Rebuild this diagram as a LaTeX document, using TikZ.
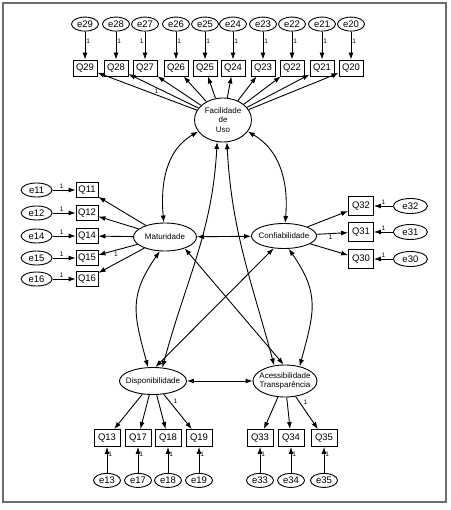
\documentclass[tikz,border=0pt]{standalone}
\usepackage{fontspec}
\setmainfont{Liberation Sans}
\usetikzlibrary{shapes.geometric,positioning,arrows.meta}

\tikzset{
  obs/.style={draw,rectangle,minimum width=24pt,minimum height=16pt,inner sep=0pt,font=\fontsize{9.5}{10}\selectfont},
  err/.style={draw,ellipse,minimum width=27pt,minimum height=14pt,inner sep=0pt,font=\fontsize{9.5}{10}\selectfont},
  lat/.style={draw,ellipse,inner sep=-6pt,align=center,font=\fontsize{8}{9.5}\selectfont},
  one/.style={font=\fontsize{6.5}{7}\selectfont,inner sep=1pt}
}

\begin{document}
\begin{tikzpicture}[x=1pt,y=-1pt,->,>={Latex[length=7pt,width=5pt]},line width=0.9pt]
		\useasboundingbox (0,0) rectangle (450,510);
		\draw[-,gray!85!black,line width=1.6pt] (3,3) rectangle (446,502);

		% latent variables
		\node[lat,minimum width=57pt,minimum height=44pt] (fac) at (223,120) {Facilidade\\de\\Uso};
		\node[lat,minimum width=63pt,minimum height=28pt] (mat) at (165,237) {Maturidade};
		\node[lat,minimum width=65pt,minimum height=25pt] (conf) at (284,236) {Confiabilidade};
		\node[lat,minimum width=67pt,minimum height=27pt] (disp) at (153,381) {Disponibilidade};
		\node[lat,minimum width=64pt,minimum height=32pt] (acc) at (285,381) {Acessibilidade\\Transparência};

		% Facilidade de Uso
		\node[obs] (q29) at (85,68) {Q29};
		\node[obs] (q28) at (116,68) {Q28};
		\node[obs] (q27) at (145,68) {Q27};
		\node[obs] (q26) at (176,68) {Q26};
		\node[obs] (q25) at (205,68) {Q25};
		\node[obs] (q24) at (233,68) {Q24};
		\node[obs] (q23) at (263,68) {Q23};
		\node[obs] (q22) at (292,68) {Q22};
		\node[obs] (q21) at (322,68) {Q21};
		\node[obs] (q20) at (351,68) {Q20};
		\node[err] (e29) [above=28pt of q29] {e29};
		\node[err] (e28) [above=28pt of q28] {e28};
		\node[err] (e27) [above=28pt of q27] {e27};
		\node[err] (e26) [above=28pt of q26] {e26};
		\node[err] (e25) [above=28pt of q25] {e25};
		\node[err] (e24) [above=28pt of q24] {e24};
		\node[err] (e23) [above=28pt of q23] {e23};
		\node[err] (e22) [above=28pt of q22] {e22};
		\node[err] (e21) [above=28pt of q21] {e21};
		\node[err] (e20) [above=28pt of q20] {e20};

		% Maturidade
		\node[obs,minimum width=22pt,minimum height=15pt] (q11) at (87,190) {Q11};
		\node[obs,minimum width=22pt,minimum height=15pt] (q12) at (87,213) {Q12};
		\node[obs,minimum width=22pt,minimum height=15pt] (q14) at (87,236) {Q14};
		\node[obs,minimum width=22pt,minimum height=15pt] (q15) at (87,258) {Q15};
		\node[obs,minimum width=22pt,minimum height=15pt] (q16) at (87,279) {Q16};
		\node[err,minimum width=31pt] (e11) [left=23pt of q11] {e11};
		\node[err,minimum width=31pt] (e12) [left=23pt of q12] {e12};
		\node[err,minimum width=31pt] (e14) [left=23pt of q14] {e14};
		\node[err,minimum width=31pt] (e15) [left=23pt of q15] {e15};
		\node[err,minimum width=31pt] (e16) [left=23pt of q16] {e16};

		% Confiabilidade
		\node[obs,minimum width=25pt,minimum height=19pt] (q32) at (361,206) {Q32};
		\node[obs,minimum width=25pt,minimum height=19pt] (q31) at (361,232) {Q31};
		\node[obs,minimum width=25pt,minimum height=19pt] (q30) at (361,259) {Q30};
		\node[err,minimum width=34pt,minimum height=15pt] (e32) [right=19pt of q32] {e32};
		\node[err,minimum width=34pt,minimum height=15pt] (e31) [right=19pt of q31] {e31};
		\node[err,minimum width=34pt,minimum height=15pt] (e30) [right=19pt of q30] {e30};

		% Disponibilidade
		\node[obs,minimum width=26pt,minimum height=17pt] (q13) at (107,438) {Q13};
		\node[obs,minimum width=26pt,minimum height=17pt] (q17) at (138,438) {Q17};
		\node[obs,minimum width=26pt,minimum height=17pt] (q18) at (168,438) {Q18};
		\node[obs,minimum width=26pt,minimum height=17pt] (q19) at (199,438) {Q19};
		\node[err] (e13) [below=26pt of q13] {e13};
		\node[err] (e17) [below=26pt of q17] {e17};
		\node[err] (e18) [below=26pt of q18] {e18};
		\node[err] (e19) [below=26pt of q19] {e19};

		% Acessibilidade Transparencia
		\node[obs,minimum width=26pt,minimum height=17pt] (q33) at (260,438) {Q33};
		\node[obs,minimum width=26pt,minimum height=17pt] (q34) at (291,438) {Q34};
		\node[obs,minimum width=26pt,minimum height=17pt] (q35) at (324,438) {Q35};
		\node[err] (e33) [below=26pt of q33] {e33};
		\node[err] (e34) [below=26pt of q34] {e34};
		\node[err] (e35) [below=26pt of q35] {e35};

		% error terms
		\path (e29) edge node[one,right,pos=0.36] {1} (q29);
		\path (e28) edge node[one,right,pos=0.36] {1} (q28);
		\path (e27) edge node[one,left,pos=0.36] {1} (q27);
		\path (e26) edge node[one,right,pos=0.36] {1} (q26);
		\path (e25) edge node[one,right,pos=0.36] {1} (q25);
		\path (e24) edge node[one,right,pos=0.36] {1} (q24);
		\path (e23) edge node[one,right,pos=0.36] {1} (q23);
		\path (e22) edge node[one,right,pos=0.36] {1} (q22);
		\path (e21) edge node[one,right,pos=0.36] {1} (q21);
		\path (e20) edge node[one,right,pos=0.36] {1} (q20);

		\path (e11) edge node[one,above,pos=0.4] {1} (q11);
		\path (e12) edge node[one,above,pos=0.4] {1} (q12);
		\path (e14) edge node[one,above,pos=0.4] {1} (q14);
		\path (e15) edge node[one,above,pos=0.4] {1} (q15);
		\path (e16) edge node[one,above,pos=0.4] {1} (q16);

		\path (e32) edge node[one,above,pos=0.5] {1} (q32);
		\path (e31) edge node[one,above,pos=0.5] {1} (q31);
		\path (e30) edge node[one,above,pos=0.5] {1} (q30);

		\path (e13) edge node[one,right,pos=0.7] {1} (q13);
		\path (e17) edge node[one,right,pos=0.7] {1} (q17);
		\path (e18) edge node[one,right,pos=0.7] {1} (q18);
		\path (e19) edge node[one,right,pos=0.7] {1} (q19);
		\path (e33) edge node[one,right,pos=0.7] {1} (q33);
		\path (e34) edge node[one,right,pos=0.7] {1} (q34);
		\path (e35) edge node[one,right,pos=0.7] {1} (q35);

		% loadings
		\path (fac) edge (q29);
		\path (fac) edge node[one,below,pos=0.6] {1} (q28);
		\path (fac) edge (q27);
		\path (fac) edge (q26);
		\path (fac) edge (q25);
		\path (fac) edge (q24);
		\path (fac) edge (q23);
		\path (fac) edge (q22);
		\path (fac) edge (q21);
		\path (fac) edge (q20);

		\path (mat) edge (q11);
		\path (mat) edge (q12);
		\path (mat) edge (q14);
		\path (mat) edge node[one,below,pos=0.55] {1} (q15);
		\path (mat) edge (q16);

		\path (conf) edge (q32);
		\path (conf) edge node[one,below,pos=0.45] {1} (q31);
		\path (conf) edge (q30);

		\path (disp) edge (q13);
		\path (disp) edge (q17);
		\path (disp) edge (q18);
		\path (disp) edge node[one,above right,pos=0.3] {1} (q19);

		\path (acc) edge (q33);
		\path (acc) edge (q34);
		\path (acc) edge node[one,above right,pos=0.3] {1} (q35);

		% covariances
		\path[<->] (mat) edge (conf);
		\path[<->] (disp) edge (acc);
		\path[<->] (mat.330) edge (acc.95);
		\path[<->] (conf.230) edge (disp.80);
		\path[<->] (fac.205) edge[out=210,in=95] (mat.95);
		\path[<->] (fac.-25) edge[out=-30,in=85] (conf.85);
		\path[<->] (fac.255) edge[out=-93,in=75] (disp.55);
		\path[<->] (fac.280) edge[out=-87,in=105] (acc.125);
		\path[<->] (mat.250) edge[out=235,in=105,looseness=1.2] (disp.110);
		\path[<->] (conf.290) edge[out=-55,in=75,looseness=1.2] (acc.45);
\end{tikzpicture}
\end{document}
